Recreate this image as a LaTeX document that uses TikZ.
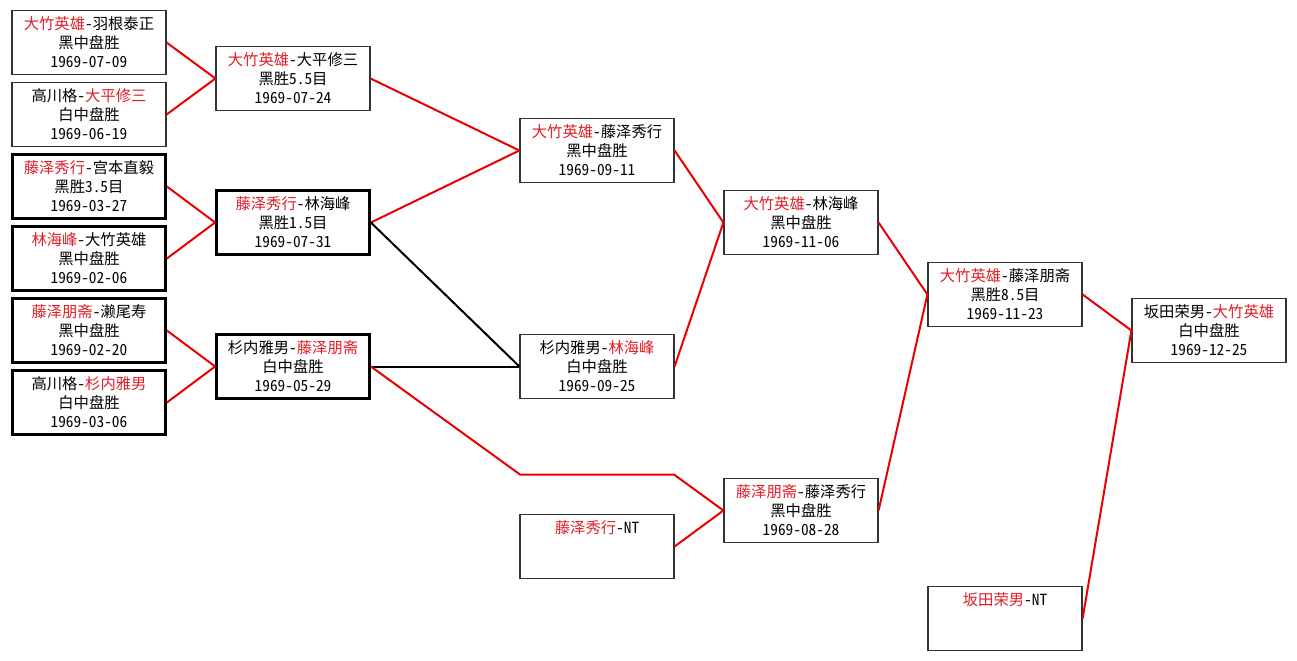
\documentclass[tikz,border=0pt]{standalone}
\usepackage{fontspec}
\setmainfont{Noto Sans CJK SC}[RawFeature=+hwid]
\usetikzlibrary{positioning}
\definecolor{winred}{RGB}{225,30,40}
\definecolor{pathred}{RGB}{235,0,0}
\newcommand{\victor}[1]{\textcolor{winred}{#1}}

\begin{document}
\begin{tikzpicture}[x=0.75pt, y=-0.75pt,
  game/.style={draw=black!80, line width=1.4pt, minimum width=115pt, minimum height=48pt,
    inner sep=0pt, align=center, font=\fontsize{11.5pt}{14.25pt}\selectfont},
  bold game/.style={game, draw=black, line width=1.8pt},
  won/.style={draw=pathred, line width=1.5pt},
  lost/.style={draw=black, line width=1.5pt}]
\fill[white] (0,0) rectangle (1297,661);
\useasboundingbox (0,0) rectangle (1297,661);

\node[game] (c1n1) at (89, 42.5) {\victor{大竹英雄}-羽根泰正\\黑中盘胜\\1969-07-09};
\node[game] (c1n2) at (89,114.5) {高川格-\victor{大平修三}\\白中盘胜\\1969-06-19};
\node[bold game] (c1n3) at (89,186.5) {\victor{藤泽秀行}-宫本直毅\\黑胜3.5目\\1969-03-27};
\node[bold game] (c1n4) at (89,258.5) {\victor{林海峰}-大竹英雄\\黑中盘胜\\1969-02-06};
\node[bold game] (c1n5) at (89,330.5) {\victor{藤泽朋斋}-濑尾寿\\黑中盘胜\\1969-02-20};
\node[bold game] (c1n6) at (89,402.5) {高川格-\victor{杉内雅男}\\白中盘胜\\1969-03-06};

\node[game] (c2n1) at (293, 78.5) {\victor{大竹英雄}-大平修三\\黑胜5.5目\\1969-07-24};
\node[bold game] (c2n2) at (293,222.5) {\victor{藤泽秀行}-林海峰\\黑胜1.5目\\1969-07-31};
\node[bold game] (c2n3) at (293,366.5) {杉内雅男-\victor{藤泽朋斋}\\白中盘胜\\1969-05-29};

\node[game] (c3n1) at (597,150.5) {\victor{大竹英雄}-藤泽秀行\\黑中盘胜\\1969-09-11};
\node[game] (c3n2) at (597,366.5) {杉内雅男-\victor{林海峰}\\白中盘胜\\1969-09-25};
\node[game] (c3n3) at (597,546.5) {\victor{藤泽秀行}-NT\\\mbox{}\\\mbox{}};

\node[game] (c4n1) at (801,222.5) {\victor{大竹英雄}-林海峰\\黑中盘胜\\1969-11-06};
\node[game] (c4n2) at (801,510.5) {\victor{藤泽朋斋}-藤泽秀行\\黑中盘胜\\1969-08-28};

\node[game] (c5n1) at (1005,294.5) {\victor{大竹英雄}-藤泽朋斋\\黑胜8.5目\\1969-11-23};
\node[game] (c5n2) at (1005,618.5) {\victor{坂田荣男}-NT\\\mbox{}\\\mbox{}};

\node[game] (c6n1) at (1209,330.5) {坂田荣男-\victor{大竹英雄}\\白中盘胜\\1969-12-25};

\coordinate (bendA) at (520,474.5);
\coordinate (bendB) at (674,474.5);

\draw[won] (c1n1.east) -- (c2n1.west);
\draw[won] (c1n2.east) -- (c2n1.west);
\draw[won] (c1n3.east) -- (c2n2.west);
\draw[won] (c1n4.east) -- (c2n2.west);
\draw[won] (c1n5.east) -- (c2n3.west);
\draw[won] (c1n6.east) -- (c2n3.west);
\draw[won] (c2n1.east) -- (c3n1.west);
\draw[won] (c2n2.east) -- (c3n1.west);
\draw[lost] (c2n2.east) -- (c3n2.west);
\draw[lost] (c2n3.east) -- (c3n2.west);
\draw[won] (c2n3.east) -- (bendA) -- (bendB) -- (c4n2.west);
\draw[won] (c3n3.east) -- (c4n2.west);
\draw[won] (c3n1.east) -- (c4n1.west);
\draw[won] (c3n2.east) -- (c4n1.west);
\draw[won] (c4n1.east) -- (c5n1.west);
\draw[won] (c4n2.east) -- (c5n1.west);
\draw[won] (c5n1.east) -- (c6n1.west);
\draw[won] (c5n2.east) -- (c6n1.west);
\end{tikzpicture}
\end{document}
